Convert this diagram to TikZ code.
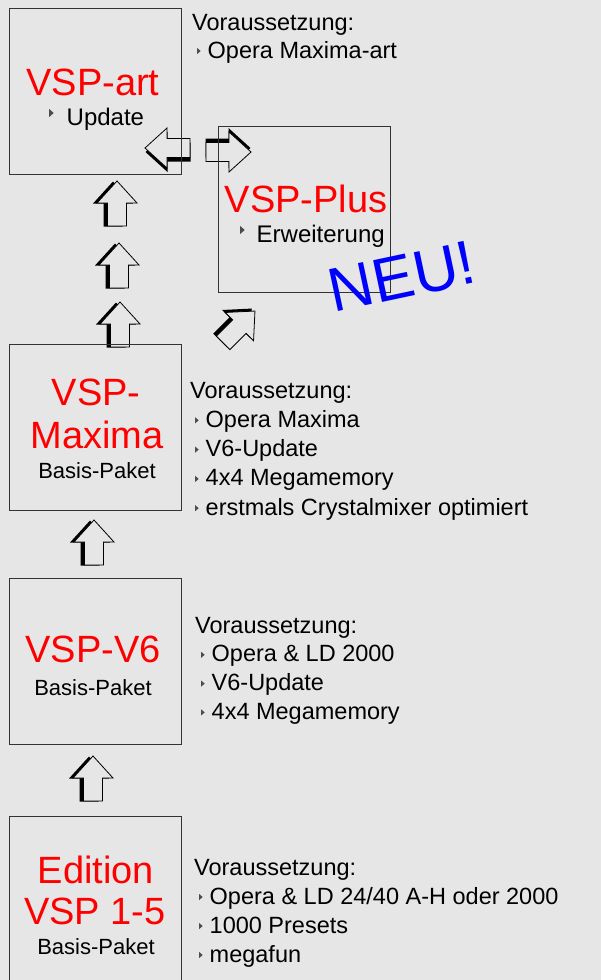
\documentclass[tikz,border=0pt]{standalone}
\usepackage{fontspec}
\setmainfont{Liberation Sans}
\usetikzlibrary{positioning}
\definecolor{bg}{RGB}{230,230,230}
\newcommand{\tri}{\tikz[baseline=0pt]\fill[black!70] (0pt,4pt) -- (0pt,10pt) -- (3.5pt,7pt) -- cycle;}
\newcommand{\trib}{\tikz[baseline=0pt]\fill[black!70] (0pt,8pt) -- (0pt,16pt) -- (4.5pt,12pt) -- cycle;}

\begin{document}
\begin{tikzpicture}[x=1pt,y=-1pt,
	box/.style={draw=black!80,line width=0.8pt,minimum width=172pt,minimum height=166pt,inner sep=0,anchor=north west},
	prod/.style={text=red,font=\fontsize{38}{40}\selectfont,inner sep=0,anchor=base},
	sub/.style={font=\fontsize{22}{24}\selectfont,inner sep=0,anchor=base},
	req/.style={font=\fontsize{23.5}{25}\selectfont,inner sep=0,anchor=base west},
	blockarrow/.pic={
		\fill[black,shift={(-4,0.5)}] (0,-22) -- (20,0) -- (9.5,0) -- (9.5,23) -- (-9.5,23) -- (-9.5,0) -- (-20,0) -- cycle;
		\filldraw[fill=bg,draw=black,line width=0.8pt] (0,-22) -- (20,0) -- (9.5,0) -- (9.5,23) -- (-9.5,23) -- (-9.5,0) -- (-20,0) -- cycle;
	}]
		\useasboundingbox (0,0) rectangle (601,980);
		\fill[bg] (0,0) rectangle (601,980);
		
		\pic at (117,203) {blockarrow};
		\pic at (119,265) {blockarrow};
		\pic at (120,324) {blockarrow};
		\pic at (94,542) {blockarrow};
		\pic at (93,778) {blockarrow};
		\pic[rotate=90] at (167,148) {blockarrow};
		\pic[rotate=-90] at (229,152) {blockarrow};
		\pic[rotate=-45] at (239.4,326.6) {blockarrow};
		
		\node[box] (art) at (9,8) {};
		\node[box] (plus) at (218,126) {};
		\node[box] (maxima) at (9,344) {};
		\node[box] (vsix) at (9,578) {};
		\node[box,minimum height=172pt] (edition) at (9,816) {};
		
		\node[prod] (artT) at (93,95) {VSP-art};
		\node[req,font=\fontsize{24}{26}\selectfont] (artU) at (49,125) {\trib\hspace{13pt}Update};
		\node[req] (artV) at (192,30) {Voraussetzung:};
		\node[req] (artR) at (197,58) {\tri\hspace{7pt}Opera Maxima-art};
		
		\node[prod] (plusT) at (306,212) {VSP-Plus};
		\node[req,font=\fontsize{24}{26}\selectfont] (plusE) at (240,242) {\trib\hspace{12pt}Erweiterung};
		\node[text=blue,font=\fontsize{62}{64}\selectfont,rotate=12,inner sep=0] (neu) at (402,277) {NEU!};
		
		\node[prod] (maxT) at (96,405) {VSP-};
		\node[prod] (maxM) at (97,448) {Maxima};
		\node[sub] (maxB) at (97,478) {Basis-Paket};
		\node[req] (maxV) at (190,398) {Voraussetzung:};
		\foreach \t [count=\i] in {Opera Maxima,V6-Update,4x4 Megamemory,erstmals Crystalmixer optimiert}
			\node[req] (maxR\i) at (195,398+29.3*\i) {\tri\hspace{7pt}\t};
		
		\node[prod] (vsixT) at (93,662) {VSP-V6};
		\node[sub] (vsixB) at (93,695) {Basis-Paket};
		\node[req] (vsixV) at (195,633) {Voraussetzung:};
		\foreach \t [count=\i] in {Opera \& LD 2000,V6-Update,4x4 Megamemory}
			\node[req] (vsixR\i) at (201,633+28.8*\i) {\tri\hspace{7pt}\t};
		
		\node[prod] (edT) at (96,883) {Edition};
		\node[prod] (edV) at (95,924) {VSP 1-5};
		\node[sub] (edB) at (96,954) {Basis-Paket};
		\node[req] (edR) at (194,875) {Voraussetzung:};
		\foreach \t [count=\i] in {Opera \& LD 24/40 A-H oder 2000,1000 Presets,megafun}
			\node[req] (edR\i) at (199,875+29*\i) {\tri\hspace{7pt}\t};
	\end{tikzpicture}
\end{document}
